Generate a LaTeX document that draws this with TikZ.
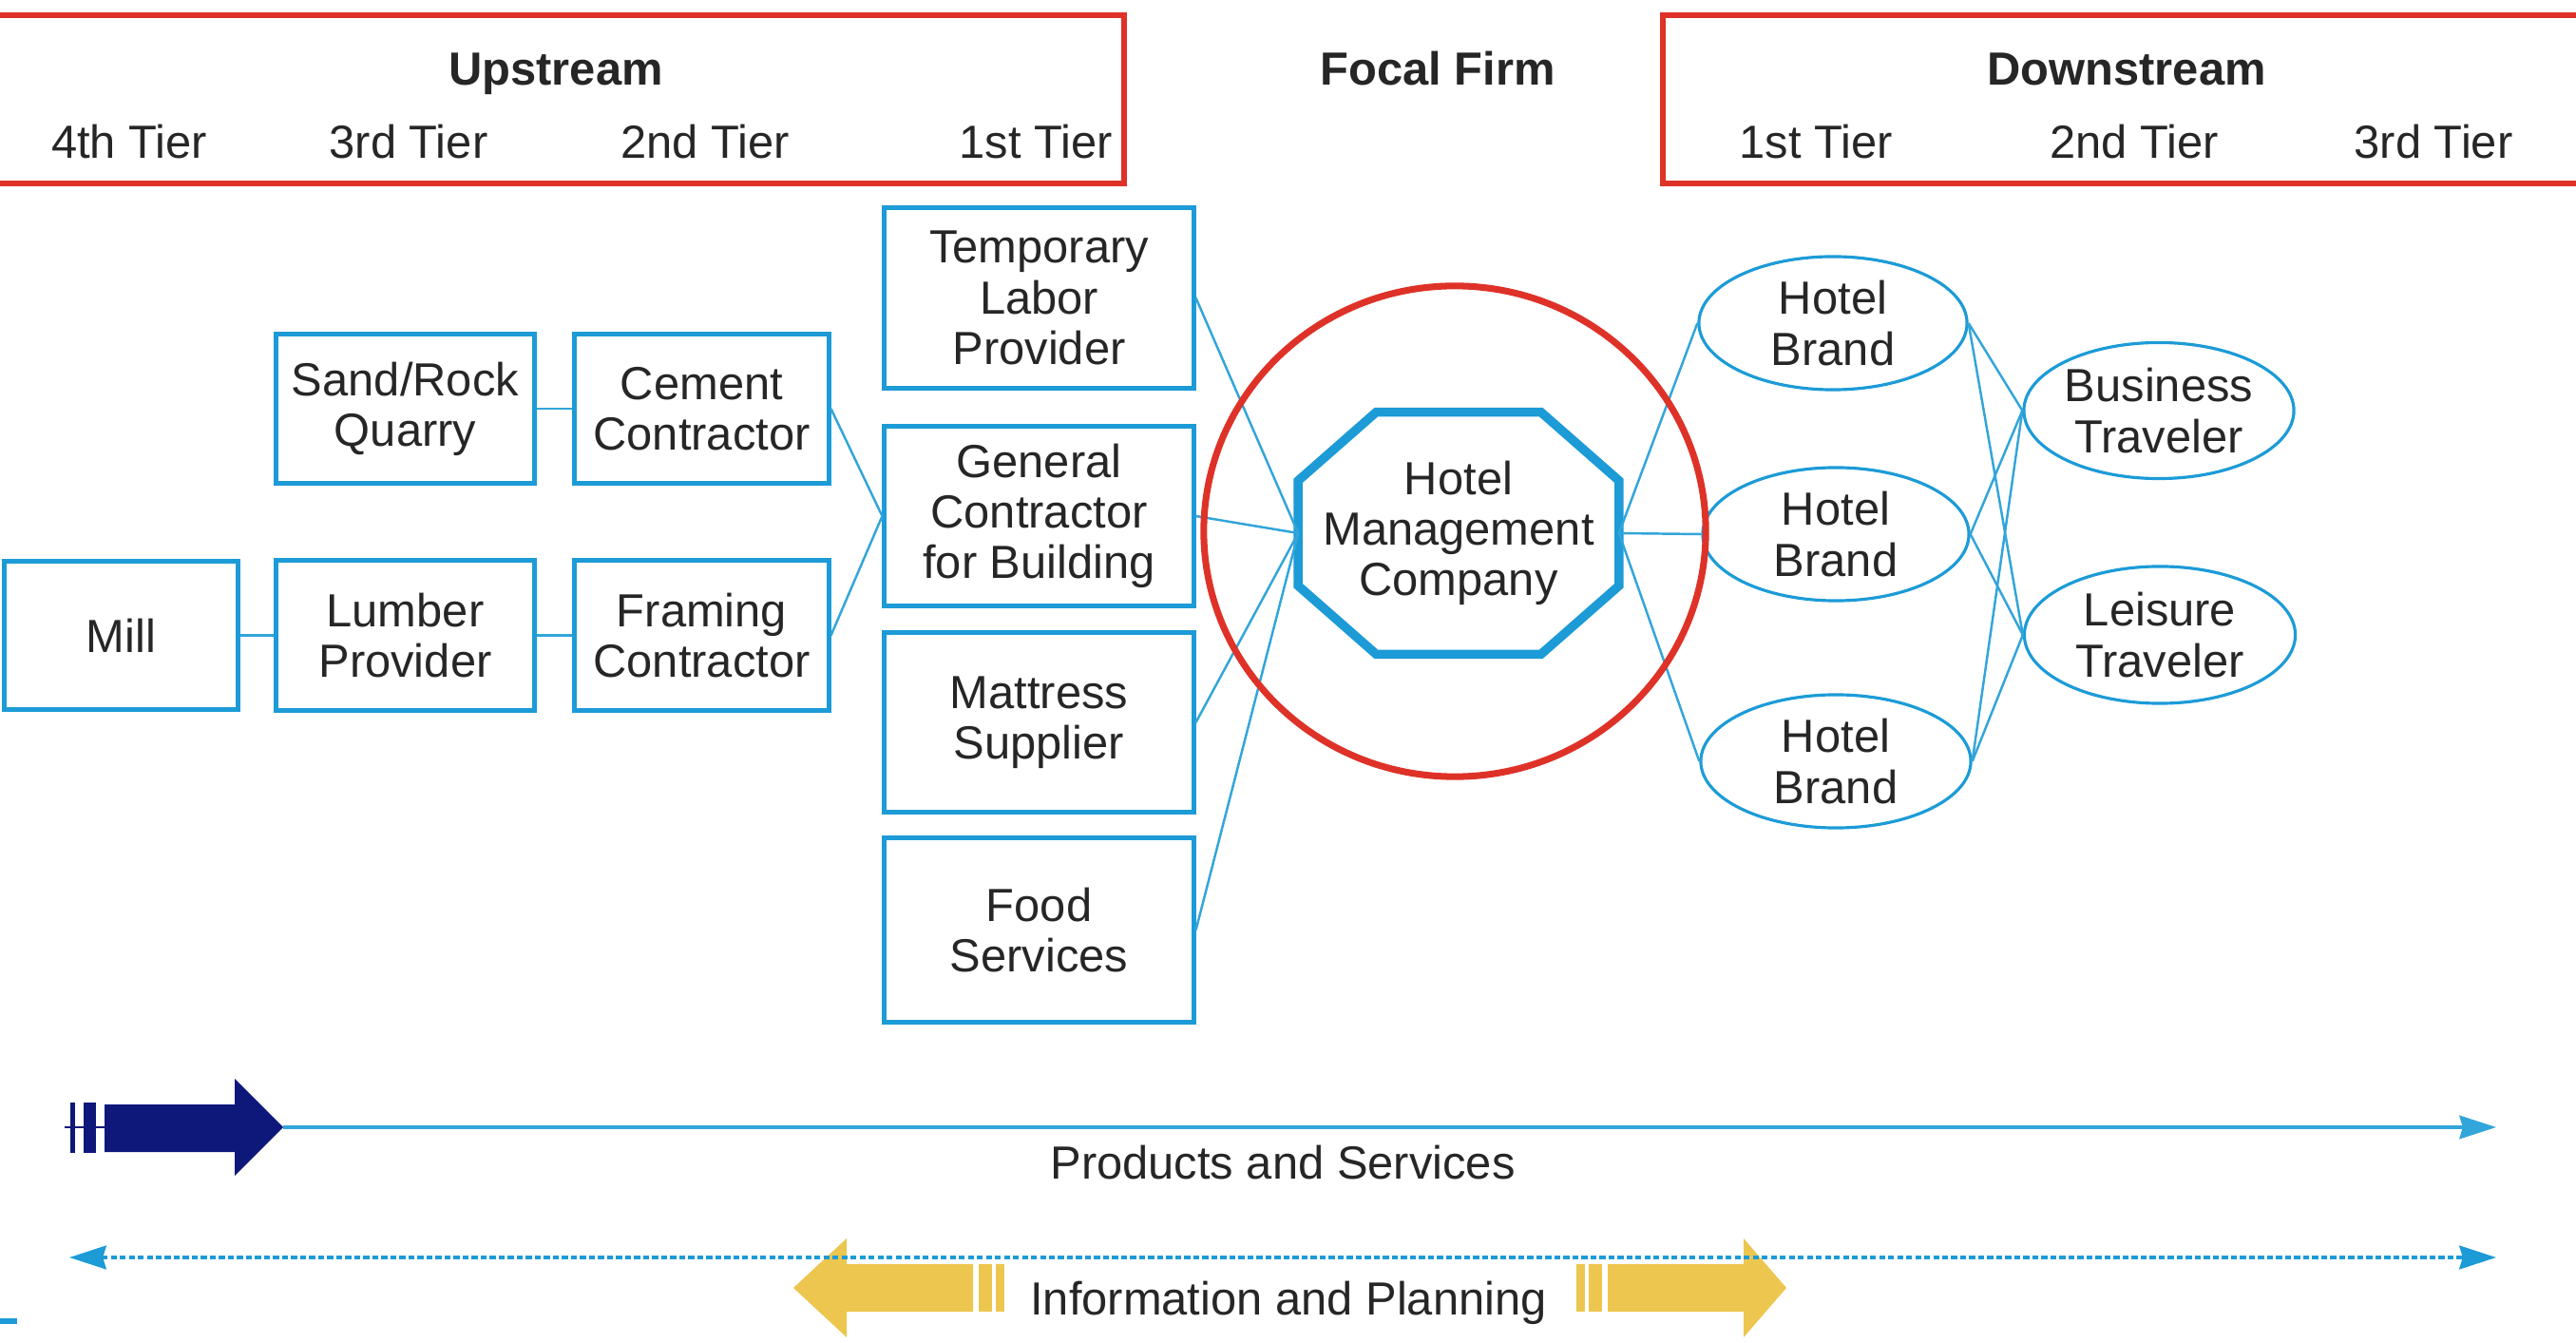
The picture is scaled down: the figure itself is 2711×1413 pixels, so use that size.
\documentclass[tikz,border=0pt]{standalone}
\usepackage{fontspec}
\setmainfont{Liberation Sans}
\usetikzlibrary{arrows.meta,shapes.geometric,calc}
\definecolor{boxblue}{RGB}{28,155,215}
\definecolor{linkblue}{RGB}{50,165,218}
\definecolor{hdrred}{RGB}{222,50,40}
\definecolor{navyarrow}{RGB}{14,24,122}
\definecolor{goldarrow}{RGB}{236,198,78}
\definecolor{txt}{RGB}{38,38,38}
\begin{document}
\begin{tikzpicture}[x=0.01cm,y=-0.01cm,
  every node/.style={font=\fontsize{13.9pt}{15.1pt}\selectfont, text=txt},
  hdrlabel/.style={anchor=base, font=\fontsize{13.9pt}{15.1pt}\selectfont\bfseries},
  tierlabel/.style={anchor=base},
  supbox/.style={draw=boxblue, line width=1.4pt, rectangle, align=center, inner sep=0pt},
  oval/.style={draw=boxblue, line width=0.9pt, ellipse, align=center, inner sep=0pt},
  link/.style={draw=linkblue, line width=0.7pt},
  hdrframe/.style={draw=hdrred, line width=1.7pt},
  octa/.style={draw=boxblue, line width=2.7pt, line join=miter},
  flowtip/.tip={Stealth[length=11pt,width=7pt,inset=1pt]}
]
\useasboundingbox (0,0) rectangle (2711,1413);

% header frames
\draw[hdrframe] (-20,16) rectangle (1183,193);
\draw[hdrframe] (1750,16) rectangle (2730,193);
\node[hdrlabel] (up) at (585,90) {Upstream};
\node[hdrlabel] (ff) at (1513,90) {Focal Firm};
\node[hdrlabel] (down) at (2238,90) {Downstream};
\node[tierlabel] (u4) at (136,167) {4th Tier};
\node[tierlabel] (u3) at (430,167) {3rd Tier};
\node[tierlabel] (u2) at (742,167) {2nd Tier};
\node[tierlabel] (u1) at (1090,167) {1st Tier};
\node[tierlabel] (d1) at (1911,167) {1st Tier};
\node[tierlabel] (d2) at (2246,167) {2nd Tier};
\node[tierlabel] (d3) at (2561,167) {3rd Tier};

% upstream boxes
\node[supbox, minimum width=2.45cm, minimum height=1.56cm] (mill) at (127.5,668.5) {Mill};
\node[supbox, minimum width=2.71cm, minimum height=1.56cm] (sand) at (426.5,430) {Sand/Rock\\Quarry};
\node[supbox, minimum width=2.67cm, minimum height=1.56cm] (cement) at (738.5,430) {Cement\\Contractor};
\node[supbox, minimum width=2.71cm, minimum height=1.58cm] (lumber) at (426.5,668.5) {Lumber\\Provider};
\node[supbox, minimum width=2.67cm, minimum height=1.58cm] (framing) at (738.5,668.5) {Framing\\Contractor};
\node[supbox, minimum width=3.25cm, minimum height=1.89cm] (temp) at (1093.5,313.5) {Temporary\\Labor\\Provider};
\node[supbox, minimum width=3.25cm, minimum height=1.88cm] (general) at (1093.5,543) {General\\Contractor\\for Building};
\node[supbox, minimum width=3.25cm, minimum height=1.88cm] (mattress) at (1093.5,760) {Mattress\\Supplier};
\node[supbox, minimum width=3.25cm, minimum height=1.93cm] (food) at (1093.5,978.5) {Food\\Services};

% focal firm
\node[minimum width=3.36cm, minimum height=2.53cm, inner sep=0pt, align=center] (hmc) at (1535,561) {Hotel\\Management\\Company};
\draw[octa] ($(hmc.north west)+(82,0)$) -- ($(hmc.north east)+(-82,0)$) -- ($(hmc.north east)+(0,72)$) -- ($(hmc.south east)+(0,-72)$) -- ($(hmc.south east)+(-82,0)$) -- ($(hmc.south west)+(82,0)$) -- ($(hmc.south west)+(0,-72)$) -- ($(hmc.north west)+(0,72)$) -- cycle;

% downstream ovals
\node[oval, minimum width=2.82cm, minimum height=1.40cm] (hb1) at (1929,340) {Hotel\\Brand};
\node[oval, minimum width=2.80cm, minimum height=1.40cm] (hb2) at (1932,562) {Hotel\\Brand};
\node[oval, minimum width=2.84cm, minimum height=1.40cm] (hb3) at (1932,801) {Hotel\\Brand};
\node[oval, minimum width=2.84cm, minimum height=1.43cm] (bus) at (2272,432) {Business\\Traveler};
\node[oval, minimum width=2.85cm, minimum height=1.44cm] (lei) at (2273,668) {Leisure\\Traveler};

% connectors
\draw[link] (mill.east) -- (lumber.west);
\draw[link] (lumber.east) -- (framing.west);
\draw[link] (sand.east) -- (cement.west);
\draw[link] (cement.east) -- (general.west);
\draw[link] (framing.east) -- (general.west);
\foreach \s in {temp,general,mattress,food} \draw[link] (\s.east) -- (hmc.west);
\foreach \b in {hb1,hb2,hb3} {
  \draw[link] (hmc.east) -- (\b.west);
  \draw[link] (\b.east) -- (bus.west);
  \draw[link] (\b.east) -- (lei.west);
}

% focal ring
\node[draw=hdrred, line width=2pt, ellipse, minimum width=5.28cm, minimum height=5.16cm, inner sep=0pt] (ring) at (1531,559) {};

% products and services
\fill[navyarrow] (110,1162) -- (247,1162) -- (247,1135) -- (298,1186) -- (247,1237) -- (247,1212) -- (110,1212) -- cycle;
\fill[navyarrow] (74,1160) rectangle (79,1213);
\fill[navyarrow] (88,1160) rectangle (101,1213);
\draw[navyarrow, line width=0.3pt] (68,1186) -- (110,1186);
\coordinate (psA) at (298,1186);
\coordinate (psB) at (2627,1186);
\draw[link, line width=0.9pt, -flowtip] (psA) -- (psB);
\node[anchor=base] (pslabel) at (1350,1240) {Products and Services};

% information and planning
\fill[goldarrow] (835,1355) -- (891,1303) -- (891,1330) -- (1024,1330) -- (1024,1380) -- (891,1380) -- (891,1407) -- cycle;
\fill[goldarrow] (1030,1330) rectangle (1044,1380);
\fill[goldarrow] (1048,1330) rectangle (1057,1380);
\fill[goldarrow] (1880,1355) -- (1835,1303) -- (1835,1330) -- (1692,1330) -- (1692,1380) -- (1835,1380) -- (1835,1407) -- cycle;
\fill[goldarrow] (1672,1330) rectangle (1686,1380);
\fill[goldarrow] (1659,1330) rectangle (1668,1380);
\coordinate (ipA) at (73,1323);
\coordinate (ipB) at (2627,1323);
\draw[boxblue, line width=1.2pt, dash pattern=on 1.8pt off 0.9pt, flowtip-flowtip] (ipA) -- (ipB);
\node[anchor=base] (iplabel) at (1356,1383) {Information and Planning};

% small stray mark at lower left
\fill[boxblue] (0,1387) rectangle (18,1393);
\end{tikzpicture}
\end{document}
